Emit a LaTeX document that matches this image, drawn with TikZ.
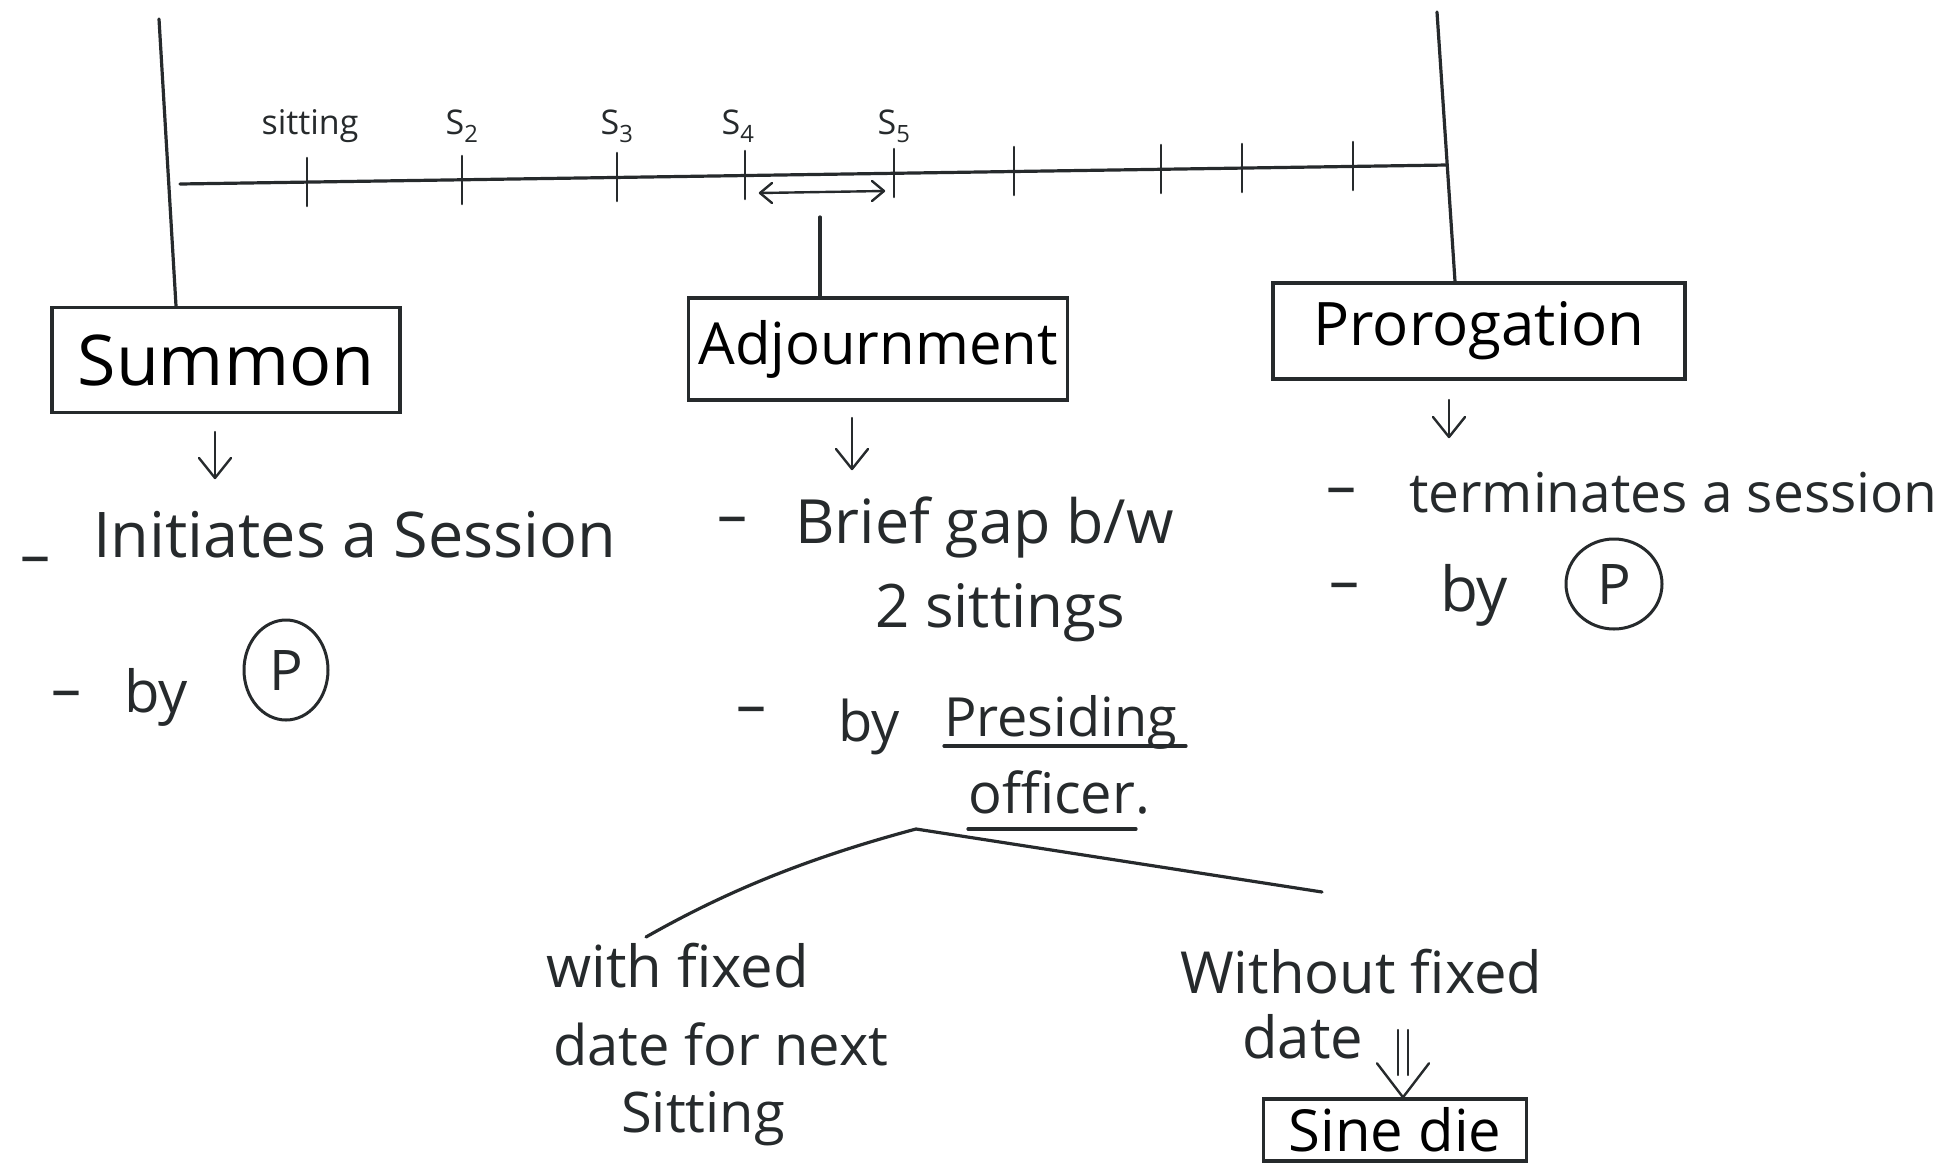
\documentclass[tikz,border=0pt]{standalone}
\usepackage{fontspec}
\setmainfont{Open Sans}
\usetikzlibrary{arrows.meta,shapes.geometric}
\definecolor{ink}{RGB}{38,42,44}
\tikzset{
  pen/.style={draw=ink, line width=3.2pt, line cap=round, line join=round},
  hbox/.style={draw=ink, line width=3.4pt, inner sep=0pt},
  txt/.style={text=ink, inner sep=0pt, anchor=base west},
  lbl/.style={text=ink, inner sep=0pt, anchor=base, font=\fontsize{34}{40}\selectfont},
  dashmark/.style={text=ink, inner sep=0pt, font=\fontsize{60}{70}\selectfont},
  thinpen/.style={pen, line width=2.4pt},
  circP/.style={draw=ink, line width=3pt, ellipse, inner sep=0pt, text=ink, font=\fontsize{56}{60}\selectfont}
}
\begin{document}
\begin{tikzpicture}[x=1pt,y=-1pt]
\useasboundingbox (0,0) rectangle (1947,1163);

% session boundaries
\node[hbox, minimum width=348pt, minimum height=105pt, font=\fontsize{70}{80}\selectfont] (summon) at (226,360) {Summon};
\node[hbox, minimum width=379pt, minimum height=102pt, font=\fontsize{58}{68}\selectfont] (adj) at (878,349) {Adjournment};
\node[hbox, minimum width=412pt, minimum height=96pt, font=\fontsize{60}{70}\selectfont] (pro) at (1479,331) {Prorogation};

\coordinate (lvtop) at (159,19);
\coordinate (rvtop) at (1437,12);
\draw[pen] (lvtop) -- (summon.north -| 176,0);
\draw[pen] (rvtop) -- (pro.north -| 1455,0);

% timeline
\coordinate (tl0) at (180,184);
\coordinate (tl1) at (1447,165);
\draw[pen] (tl0) -- (tl1);
\foreach \x/\y in {307/182, 462/180, 617/177, 745/175, 894/173, 1014/171, 1161/169, 1242/168, 1353/166}
  \draw[pen, line width=2.6pt] (\x,\y-24) -- (\x,\y+24);

\node[lbl] (l1) at (310,134) {sitting};
\node[lbl] (l2) at (462,134) {S\textsubscript{2}};
\node[lbl] (l3) at (617,134) {S\textsubscript{3}};
\node[lbl] (l4) at (738,134) {S\textsubscript{4}};
\node[lbl] (l5) at (894,134) {S\textsubscript{5}};

\coordinate (ga) at (760,193);
\coordinate (gb) at (884,191);
\draw[thinpen] (ga) -- (gb);
\draw[thinpen] ([shift={(12,-10)}]ga) -- (ga) -- ([shift={(12,10)}]ga);
\draw[thinpen] ([shift={(-12,-10)}]gb) -- (gb) -- ([shift={(-12,10)}]gb);
\coordinate (gm) at (820,217);
\draw[pen] (gm) -- (gm |- adj.north);

% down arrows
\coordinate (sa0) at (215,432); \coordinate (sa1) at (215,478);
\coordinate (aa0) at (852,418); \coordinate (aa1) at (852,469);
\coordinate (pa0) at (1449,400); \coordinate (pa1) at (1449,437);
\foreach \a/\b in {sa0/sa1, aa0/aa1, pa0/pa1}{
  \draw[thinpen] (\a) -- (\b);
  \draw[thinpen] ([shift={(-16,-20)}]\b) -- (\b) -- ([shift={(16,-20)}]\b);
}

% Summon text
\node[dashmark] (d1) at (35,566) {–};
\node[txt, font=\fontsize{63}{70}\selectfont] (t1) at (93,557) {Initiates a Session};
\node[dashmark] (d2) at (66,700) {–};
\node[txt, font=\fontsize{58}{70}\selectfont] (t2) at (124,712) {by};
\node[circP, minimum width=84pt, minimum height=100pt] (p1) at (286,670) {P};

% Adjournment text
\node[dashmark] (d3) at (732,526) {–};
\node[txt, font=\fontsize{61}{70}\selectfont] (t3) at (795,543) {Brief gap b/w};
\node[txt, font=\fontsize{60}{70}\selectfont] (t4) at (875,627) {2 sittings};
\node[dashmark] (d4) at (751,716) {–};
\node[txt, font=\fontsize{56}{70}\selectfont] (t5) at (838,741) {by};
\node[txt, font=\fontsize{54}{70}\selectfont] (t6) at (944,736) {Presiding};
\node[txt, font=\fontsize{56}{70}\selectfont] (t7) at (968,813) {officer.};
\draw[pen] (t6.base west) ++(0,10) -- ++(242,0);
\draw[pen] (t7.base west) ++(0,16) -- ++(168,0);

% Prorogation text
\node[dashmark] (d5) at (1341,497) {–};
\node[txt, font=\fontsize{55}{70}\selectfont] (t8) at (1409,512) {terminates a session};
\node[dashmark] (d6) at (1344,592) {–};
\node[txt, font=\fontsize{62}{70}\selectfont] (t9) at (1440,611) {by};
\node[circP, minimum width=96pt, minimum height=90pt] (p2) at (1614,584) {P};

% branches
\coordinate (apex) at (916,829);
\node[txt, font=\fontsize{58}{70}\selectfont] (w1) at (546,987) {with fixed};
\node[txt, font=\fontsize{56}{70}\selectfont] (w2) at (553,1065) {date for next};
\node[txt, font=\fontsize{56}{70}\selectfont] (w3) at (621,1132) {Sitting};
\node[txt, font=\fontsize{58}{70}\selectfont] (n1) at (1180,993) {Without fixed};
\node[txt, font=\fontsize{58}{70}\selectfont] (n2) at (1242,1058) {date};
\coordinate (lb) at (646,937);
\coordinate (rb) at (1322,892);
\draw[pen] (apex) .. controls (800,860) and (720,895) .. (lb);
\draw[pen] (apex) -- (rb);

\node[hbox, minimum width=263pt, minimum height=62pt, font=\fontsize{58}{64}\selectfont] (sine) at (1395,1130) {Sine die};
\coordinate (da) at (1403,1030);
\coordinate (dtip) at (sine.north -| da);
\draw[thinpen] ([xshift=-5pt]da) -- ++(0,45);
\draw[thinpen] ([xshift=5pt]da) -- ++(0,45);
\draw[thinpen] ([shift={(-26,-34)}]dtip) -- (dtip) -- ([shift={(26,-34)}]dtip);
\end{tikzpicture}
\end{document}
